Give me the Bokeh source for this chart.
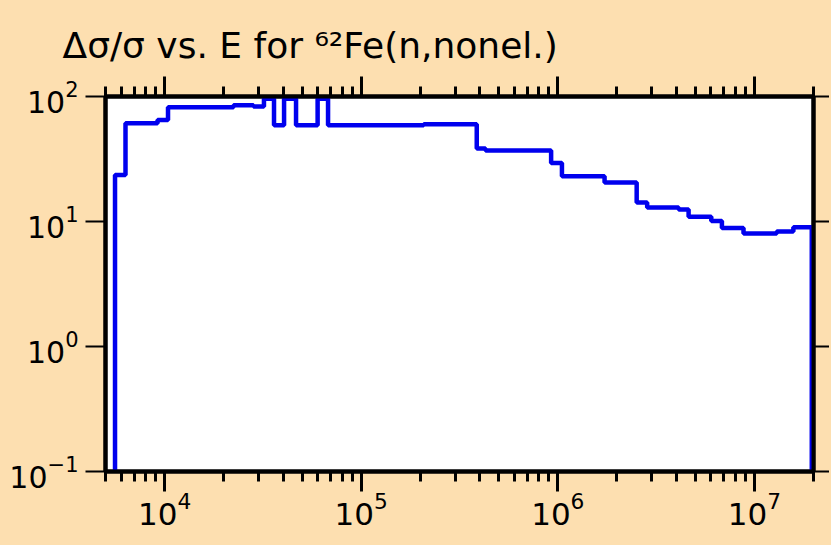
from bokeh.plotting import figure
from bokeh.models import LogAxis, LogTicker, Range1d, Title
from bokeh.embed import file_html
from bokeh.resources import INLINE

# energy bin edges (eV) and relative uncertainty (%) per bin
energy_edges = [5.59e3, 6.32e3, 9.2e3, 1.04e4, 2.24e4, 2.83e4, 3.2e4, 3.6e4, 4.05e4,
                4.66e4, 6.0e4, 6.78e4, 2.08e5, 3.87e5, 4.29e5, 9.25e5, 1.05e6, 1.73e6,
                2.52e6, 2.85e6, 4.12e6, 4.63e6, 6.04e6, 6.84e6, 8.81e6, 1.30e7, 1.58e7,
                1.96e7]
rel_unc = [23.5, 61, 65, 82, 85, 83, 96, 59, 96, 59, 96, 59, 60, 38.4, 36.9, 29.4,
           23.0, 20.5, 14.2, 12.95, 12.5, 10.9, 10.07, 8.87, 8.0, 8.3, 9.0]
floor_value = 1e-3  # below the plotted range: the curve drops out at both ends

x_range = (5e3, 2e7)
y_range = (0.1, 100)

BG = "#FDDFB0"
FONT = "DejaVu Sans"
title_text = "\u0394\u03c3/\u03c3 vs. E for \u2076\u00b2Fe(n,nonel.)"

xs = [energy_edges[0]] + energy_edges
ys = [floor_value] + rel_unc + [floor_value]

p = figure(x_axis_type="log", y_axis_type="log",
           x_range=Range1d(*x_range), y_range=Range1d(*y_range),
           frame_width=708, frame_height=375,
           min_border_left=105, min_border_top=96, min_border_right=12, min_border_bottom=70,
           output_backend="svg", toolbar_location=None,
           background_fill_color="white", border_fill_color=BG)
p.grid.visible = False
p.outline_line_color = "black"
p.outline_line_width = 4

p.step(xs, ys, mode="after", line_color="#0000EE", line_width=4.5)

# bottom axis
xa = p.xaxis[0]
xa.ticker = LogTicker(num_minor_ticks=10)
xa.axis_line_width = 4
xa.major_tick_out = 20
xa.major_tick_in = 0
xa.minor_tick_out = 10
xa.minor_tick_in = 0
xa.major_tick_line_width = 3
xa.minor_tick_line_width = 3
xa.major_label_text_font = FONT
xa.major_label_text_font_size = "31px"
xa.major_label_text_color = "black"
xa.major_label_standoff = 0

# left axis
ya = p.yaxis[0]
ya.ticker = LogTicker(num_minor_ticks=10)
ya.axis_line_width = 4
ya.major_tick_out = 20
ya.major_tick_in = 0
ya.minor_tick_line_color = None
ya.major_tick_line_width = 2
ya.major_label_text_font = FONT
ya.major_label_text_font_size = "30px"
ya.major_label_text_color = "black"
ya.major_label_standoff = 7

# top axis: ticks only
ta = LogAxis(ticker=LogTicker(num_minor_ticks=10), axis_line_width=4,
             major_tick_out=20, major_tick_in=0, minor_tick_out=10, minor_tick_in=0,
             major_tick_line_width=3, minor_tick_line_width=3,
             major_label_text_font_size="1px", major_label_text_color=None,
             major_label_standoff=0)
p.add_layout(ta, "above")

# right axis: ticks only
ra = LogAxis(ticker=LogTicker(num_minor_ticks=10), axis_line_width=4,
             major_tick_out=16, major_tick_in=0, minor_tick_line_color=None,
             major_tick_line_width=2,
             major_label_text_font_size="1px", major_label_text_color=None,
             major_label_standoff=0)
p.add_layout(ra, "right")

p.add_layout(Title(text=title_text, align="left", offset=-43, standoff=22,
                   text_font=FONT, text_font_size="36px", text_font_style="normal",
                   text_color="black"), "above")

html = file_html(p, INLINE)
html = html.replace("<head>", "<head><style>html,body{background:%s;}</style>" % BG, 1)
open("out.html", "w").write(html)
